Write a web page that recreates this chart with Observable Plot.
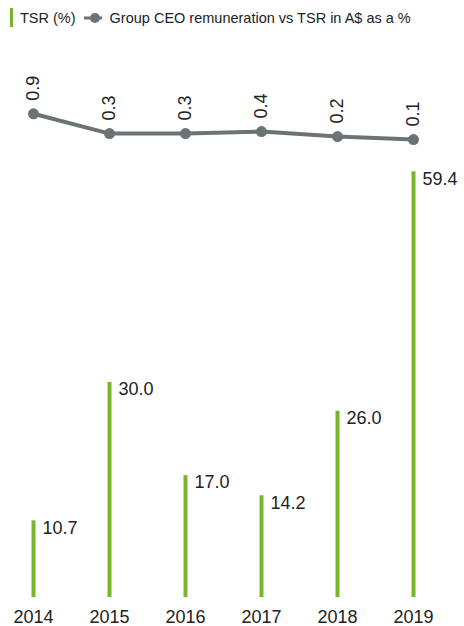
<!DOCTYPE html>
<html>
<head>
<meta charset="utf-8">
<script src="https://cdn.jsdelivr.net/npm/d3@7"></script>
<script src="https://cdn.jsdelivr.net/npm/@observablehq/plot@0.6"></script>
<style>
  html, body { margin: 0; padding: 0; background: #fff; }
  body { font-family: "Liberation Sans", Arial, sans-serif; color: #222; }
  #wrap { position: relative; width: 464px; height: 626px; overflow: hidden; }
  #legend { position: absolute; top: 8px; left: 10px; display: flex; align-items: center; font-size: 14.5px; color: #222; white-space: nowrap; }
  #legend .sw { width: 3px; height: 19px; background: #7ab32e; margin-right: 7px; }
  #legend svg { margin: 0 8px 0 8px; }
  .layer { position: absolute; left: 0; top: 0; }
</style>
</head>
<body>
<div id="wrap">
  <div id="legend">
    <div class="sw"></div><span>TSR (%)</span>
    <svg width="18" height="14"><line x1="0" y1="7" x2="18" y2="7" stroke="#6b7376" stroke-width="3"/><circle cx="11" cy="7" r="5" fill="#6b7376"/></svg>
    <span>Group CEO remuneration vs TSR in A$ as a %</span>
  </div>
  <div id="bars" class="layer"></div>
  <div id="line" class="layer"></div>
</div>
<script>
const years = ["2014", "2015", "2016", "2017", "2018", "2019"];
const tsr = [10.7, 30.0, 17.0, 14.2, 26.0, 59.4];
const ceoVsTsr = [0.9, 0.3, 0.3, 0.36, 0.21, 0.12];

const green = "#7ab32e";
const gray = "#6b7376";
const textColor = "#222";

const data = years.map((y, i) => ({year: y, tsr: tsr[i], ceo: ceoVsTsr[i]}));

const xScale = {type: "point", domain: years, padding: 0, axis: null};

const barsPlot = Plot.plot({
  width: 464,
  height: 626,
  marginTop: 167,
  marginBottom: 29,
  marginLeft: 32,
  marginRight: 51,
  style: {background: "none", fontFamily: "Liberation Sans, Arial, sans-serif", overflow: "visible"},
  x: xScale,
  y: {domain: [0, 60], axis: null},
  marks: [
    Plot.ruleX(data, {x: "year", y1: 0, y2: "tsr", stroke: green, strokeWidth: 4}),
    Plot.text(data, {x: "year", y: "tsr", text: d => d.tsr.toFixed(1), textAnchor: "start", lineAnchor: "top", dx: 9, fontSize: 18, fill: textColor}),
    Plot.text(data, {x: "year", text: "year", frameAnchor: "bottom", lineAnchor: "top", dy: 13, fontSize: 18, fill: textColor})
  ]
});
document.getElementById("bars").appendChild(barsPlot);

const linePlot = Plot.plot({
  width: 464,
  height: 160,
  marginTop: 110,
  marginBottom: 17,
  marginLeft: 32,
  marginRight: 51,
  style: {background: "none", fontFamily: "Liberation Sans, Arial, sans-serif", overflow: "visible"},
  x: xScale,
  y: {domain: [0, 1], axis: null},
  marks: [
    Plot.line(data, {x: "year", y: "ceo", stroke: gray, strokeWidth: 4}),
    Plot.dot(data, {x: "year", y: "ceo", r: 5.5, fill: gray}),
    Plot.text(data, {x: "year", y: "ceo", text: d => d.ceo.toFixed(1), rotate: -90, textAnchor: "start", lineAnchor: "middle", dy: -13, fontSize: 18, fill: textColor})
  ]
});
document.getElementById("line").appendChild(linePlot);
</script>
</body>
</html>
